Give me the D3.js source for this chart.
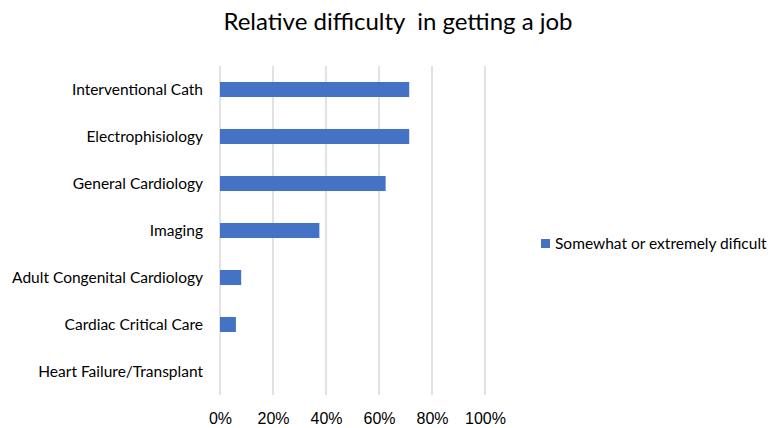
<!DOCTYPE html>
<html><head><meta charset="utf-8">
<script src="https://cdn.jsdelivr.net/npm/d3@7"></script>
<style>body{margin:0;background:#fff}</style>
</head><body><svg id="c" width="771" height="428"></svg>
<script>
const categories = ["Interventional Cath","Electrophisiology","General Cardiology","Imaging","Adult Congenital Cardiology","Cardiac Critical Care","Heart Failure/Transplant"];
const values = [71.4, 71.4, 62.5, 37.5, 8.0, 6.0, 0];
const ticks = [0,20,40,60,80,100];
const seriesName = "Somewhat or extremely dificult";
const title = "Relative difficulty  in getting a job";

const svg = d3.select("#c");
const x = d3.scaleLinear().domain([0,100]).range([220,485]);
const y = d3.scaleBand().domain(categories).range([66,395]).paddingInner(0.68).paddingOuter(0.34);
const color = "#4472C4";
const labelFont = "Lato, 'Open Sans', sans-serif";

svg.append("text").attr("x",398).attr("y",30).attr("text-anchor","middle")
  .style("white-space","pre")
  .style("font-family",labelFont).style("font-size","24px").attr("fill","#000").text(title);

// gridlines
svg.append("g").selectAll("line").data(ticks).join("line")
  .attr("x1",d=>x(d)).attr("x2",d=>x(d)).attr("y1",66).attr("y2",395)
  .attr("stroke","#d9d9d9").attr("stroke-width",1.5);

// bars
svg.append("g").selectAll("rect").data(values).join("rect")
  .attr("x",x(0)).attr("y",(d,i)=>y(categories[i]))
  .attr("width",d=>x(d)-x(0)).attr("height",y.bandwidth())
  .attr("fill",color);

// category labels
svg.append("g").selectAll("text").data(categories).join("text")
  .attr("x",203).attr("y",d=>y(d)+y.bandwidth()/2).attr("dy","0.35em")
  .attr("text-anchor","end").style("font-family",labelFont).style("font-size","15.5px")
  .attr("fill","#000").text(d=>d);

// x axis tick labels
const xa = svg.append("g").attr("transform","translate(0,395)")
  .call(d3.axisBottom(x).tickValues(ticks).tickFormat(d=>d+"%").tickSize(0).tickPadding(18));
xa.select(".domain").remove();
xa.selectAll("text").style("font-family","'Liberation Sans', Arial, sans-serif").style("font-size","16px").attr("fill","#000");

// legend
const lg = svg.append("g");
lg.append("rect").attr("x",541).attr("y",239).attr("width",9).attr("height",9).attr("fill",color);
lg.append("text").attr("x",555).attr("y",244).attr("dy","0.35em")
  .style("white-space","pre")
  .style("font-family",labelFont).style("font-size","15.5px").attr("fill","#000").text(seriesName);
</script></body></html>
